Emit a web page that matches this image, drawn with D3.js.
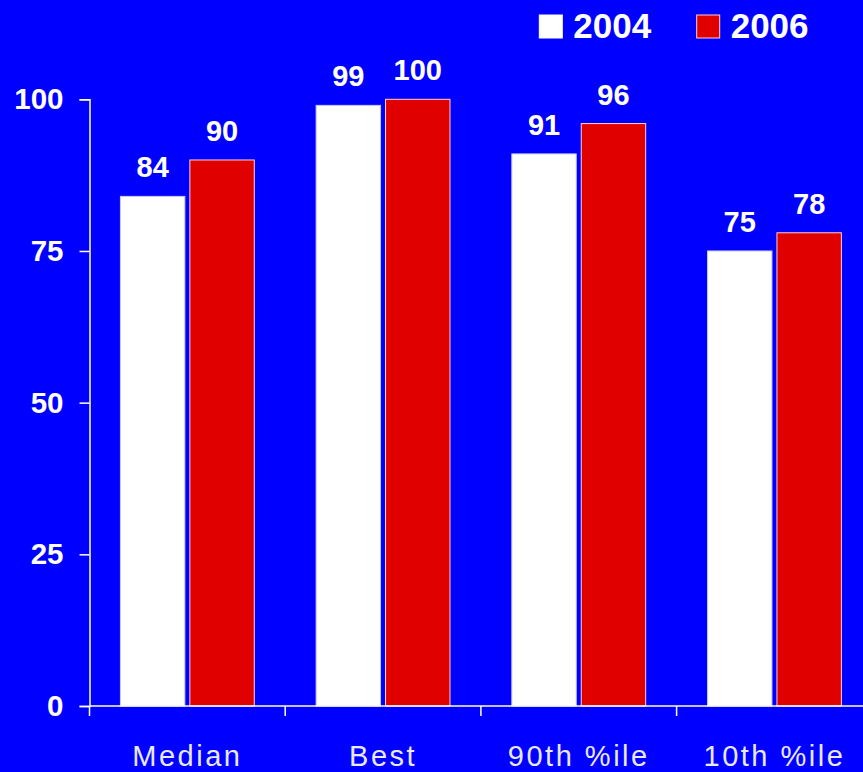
<!DOCTYPE html>
<html>
<head>
<meta charset="utf-8">
<script src="https://cdn.jsdelivr.net/npm/d3@7"></script>
<style>
  html, body { margin: 0; padding: 0; background: #0000ff; }
  svg { display: block; }
</style>
</head>
<body>
<svg id="chart" width="863" height="772"></svg>
<script>
const categories = ["Median", "Best", "90th %ile", "10th %ile"];
const seriesNames = ["2004", "2006"];
const values2004 = [84, 99, 91, 75];
const values2006 = [90, 100, 96, 78];
const yTicks = [0, 25, 50, 75, 100];
const seriesColors = ["#ffffff", "#e10000"];

const svg = d3.select("#chart");
const W = 863, H = 772;
const plotLeft = 89.5, plotRight = 872.3, plotTop = 99.3, plotBottom = 706;

svg.append("rect").attr("width", W).attr("height", H).attr("fill", "#0000ff");

const x = d3.scaleBand().domain(categories).range([plotLeft, plotRight]).padding(0);
const xInner = d3.scaleBand().domain(seriesNames)
  .range([x.bandwidth() * 0.158, x.bandwidth() * 0.842])
  .paddingInner(0.072);
const y = d3.scaleLinear().domain([0, 100]).range([plotBottom, plotTop]);

const font = "'Liberation Sans', Arial, Helvetica, sans-serif";

// Y axis
const yAxis = svg.append("g")
  .attr("transform", `translate(${plotLeft},0)`)
  .call(d3.axisLeft(y).tickValues(yTicks).tickSize(10).tickPadding(16));
yAxis.select(".domain").attr("stroke", "#ffffff").attr("stroke-width", 1.5);
yAxis.selectAll(".tick line").attr("stroke", "#ffffff").attr("stroke-width", 1.5);
yAxis.selectAll(".tick text")
  .attr("fill", "#ffffff")
  .attr("font-family", font)
  .attr("font-weight", "bold")
  .attr("font-size", 29.5);

// Bars
const rows = categories.map((c, i) => ({ cat: c, vals: [values2004[i], values2006[i]] }));
const groups = svg.append("g").selectAll("g").data(rows).join("g")
  .attr("transform", d => `translate(${x(d.cat)},0)`);

groups.selectAll("rect")
  .data(d => d.vals.map((v, j) => ({ key: seriesNames[j], v, j })))
  .join("rect")
  .attr("x", d => xInner(d.key))
  .attr("y", d => y(d.v))
  .attr("width", xInner.bandwidth())
  .attr("height", d => y(0) - y(d.v))
  .attr("fill", d => seriesColors[d.j])
  .attr("stroke", d => d.j === 0 ? "#c8c8ff" : "#ffd0d0")
  .attr("stroke-width", 1);

groups.selectAll("text.val")
  .data(d => d.vals.map((v, j) => ({ key: seriesNames[j], v, j })))
  .join("text")
  .attr("class", "val")
  .attr("x", d => xInner(d.key) + xInner.bandwidth() / 2)
  .attr("y", d => y(d.v) - 19)
  .attr("text-anchor", "middle")
  .attr("fill", "#ffffff")
  .attr("font-family", font)
  .attr("font-weight", "bold")
  .attr("font-size", 29)
  .text(d => d.v);

// X axis
const xAxis = svg.append("g")
  .attr("transform", `translate(0,${plotBottom})`)
  .call(d3.axisBottom(x).tickSize(0).tickPadding(0));
xAxis.select(".domain").remove();
xAxis.append("line")
  .attr("x1", plotLeft).attr("x2", W)
  .attr("y1", 0).attr("y2", 0)
  .attr("stroke", "#ffffff").attr("stroke-width", 1.5);
xAxis.selectAll(".sep")
  .data(categories)
  .join("line")
  .attr("class", "sep")
  .attr("x1", d => x(d)).attr("x2", d => x(d))
  .attr("y1", 0).attr("y2", 10)
  .attr("stroke", "#ffffff").attr("stroke-width", 1.5);
xAxis.selectAll(".tick text")
  .attr("y", 60)
  .attr("dy", 0)
  .attr("fill", "#e8e8ff")
  .attr("font-family", font)
  .attr("font-size", 29)
  .attr("letter-spacing", 2.5);

// Legend
const legend = svg.append("g");
const legendX = [539.3, 696.7];
seriesNames.forEach((s, i) => {
  legend.append("rect")
    .attr("x", legendX[i]).attr("y", 15)
    .attr("width", 23).attr("height", 23)
    .attr("fill", seriesColors[i])
    .attr("stroke", i === 0 ? "#ffffff" : "#ffd0d0")
    .attr("stroke-width", 1);
  legend.append("text")
    .attr("x", legendX[i] + 34).attr("y", 38)
    .attr("fill", "#ffffff")
    .attr("font-family", font)
    .attr("font-weight", "bold")
    .attr("font-size", 35)
    .text(s);
});
</script>
</body>
</html>
